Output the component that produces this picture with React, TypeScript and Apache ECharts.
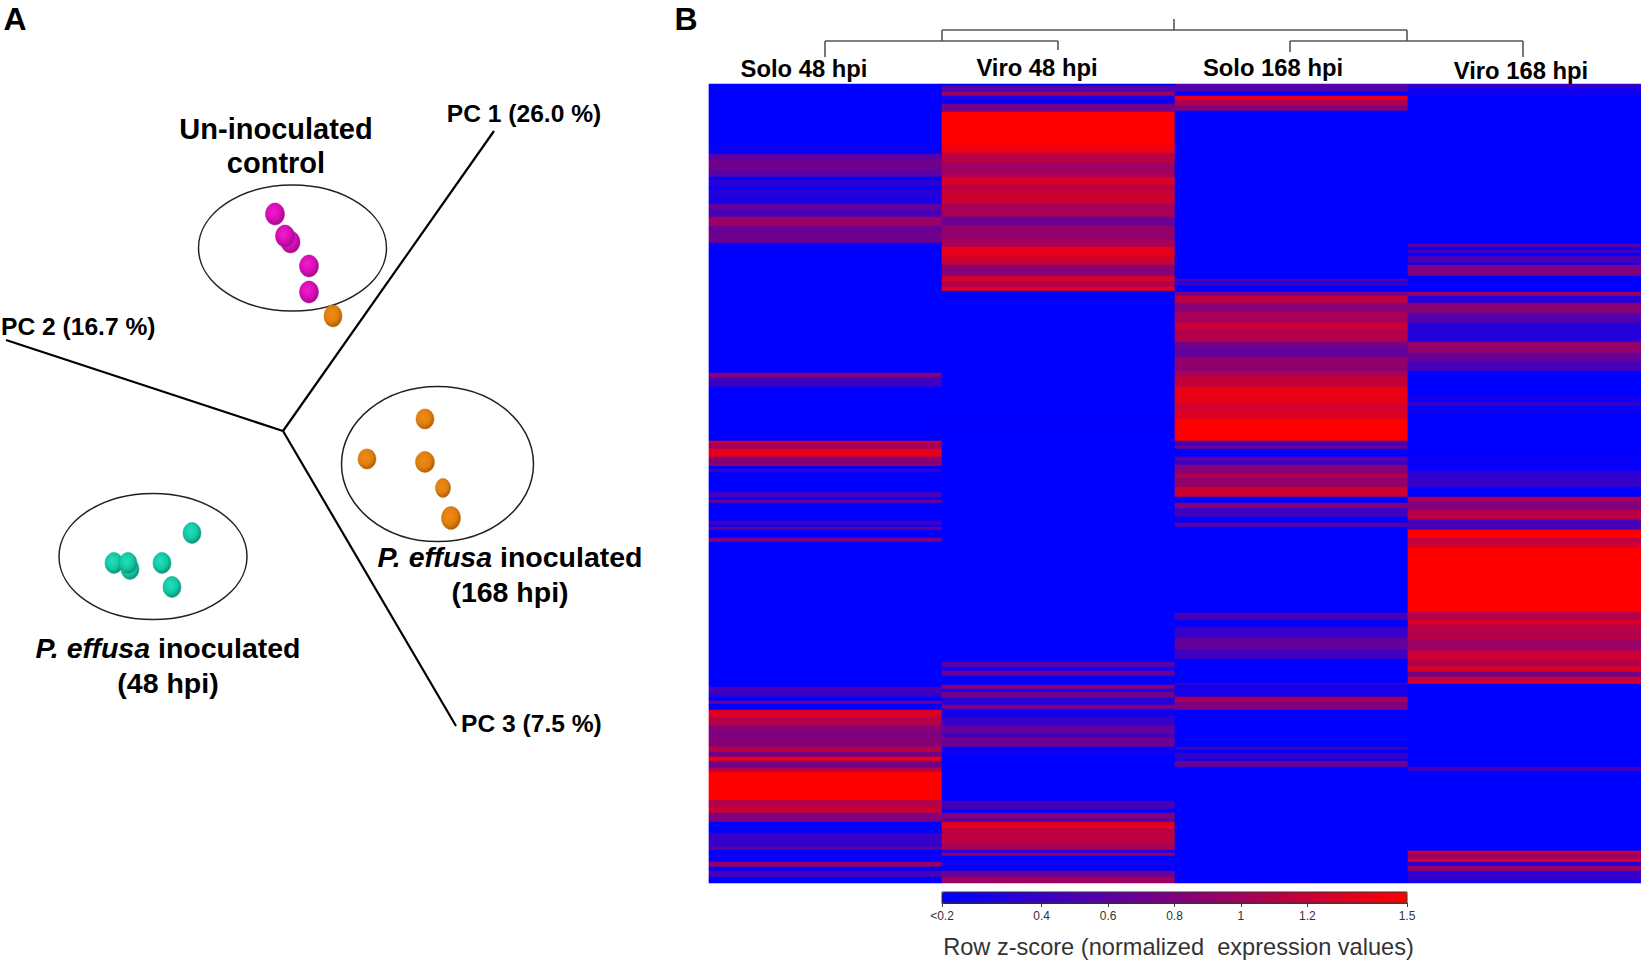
import React, { useEffect, useRef } from "react";
import * as echarts from "echarts";

// ---------- Heatmap: runs of [rows, z-score], top to bottom, one list per column ----------
const columns = ["Solo 48 hpi", "Viro 48 hpi", "Solo 168 hpi", "Viro 168 hpi"];
const rowCount = 799;

const solo48: [number, number][] = [
  [61,.1],[9,.15],[6,.6],[10,.72],[7,.6],[3,.1],[7,.3],[3,.15],[7,.3],[7,.25],[6,.65],[7,.5],[9,.95],[7,.7],[10,.72],
  [130,.1],[4,.85],[5,.5],[5,.4],[54,.1],[2,1.25],[6,1.0],[8,1.35],[8,.85],[1,1.2],[3,.1],[3,.4],[20,.1],[6,.45],[2,.1],[3,.7],
  [18,.1],[4,.45],[2,.15],[3,.65],[8,.1],[4,.8],[145,.1],[6,.5],[4,.35],[4,.1],[3,.7],[6,.1],[7,1.3],[9,1.1],[7,.85],[4,.75],
  [10,.85],[5,1.1],[5,.75],[4,1.4],[7,.75],[4,1.1],[28,1.5],[8,1.1],[5,1.22],[9,.8],[11,.1],[14,.4],[3,.6],[5,.1],[3,.25],[4,.1],
  [5,.9],[4,.1],[6,.5],[6,.1],
];
const viro48: [number, number][] = [
  [2,.1],[6,.55],[4,.95],[4,.25],[4,.15],[8,.75],[33,1.5],[8,1.4],[10,1.12],[7,.95],[7,1.0],[8,1.28],[5,1.12],[14,1.22],[13,1.02],
  [9,.7],[14,.9],[7,1.02],[10,1.36],[8,1.2],[11,.85],[6,1.25],[5,1.08],[4,1.36],[127,.1],[1,.15],[243,.1],[5,.6],[4,.2],[5,.7],[9,.1],
  [4,.85],[3,.2],[6,.75],[7,.3],[4,.8],[8,.2],[9,.4],[8,.65],[3,.45],[10,.7],[3,.1],[4,.2],[47,.1],[8,.5],[4,.1],[6,.8],[3,.5],
  [6,1.35],[16,1.15],[6,1.02],[3,.3],[3,.9],[7,.1],[3,.25],[5,.1],[6,.7],[6,.95],
];
const solo168: [number, number][] = [
  [8,.55],[4,.1],[4,1.36],[6,1.05],[5,.8],[168,.1],[3,.55],[1,.2],[3,.4],[6,.1],[4,.8],[7,1.15],[9,.85],[11,1.02],[7,1.2],[12,1.08],
  [5,.75],[10,.65],[10,.9],[4,.85],[6,1.05],[10,1.18],[16,1.38],[7,1.25],[9,1.3],[22,1.5],[5,.5],[3,.7],[8,.1],[4,.6],[4,.4],[9,.85],
  [4,1.05],[9,.9],[10,1.22],[6,.1],[5,.8],[9,.45],[6,.15],[4,.6],[86,.1],[7,.5],[7,.1],[11,.4],[12,.65],[9,.45],[24,.1],[2,.45],[4,.15],
  [8,.25],[5,1.02],[8,.8],[37,.1],[3,.45],[3,.1],[6,.4],[2,.1],[6,.7],[116,.1],
];
const viro168: [number, number][] = [
  [4,.4],[7,.2],[149,.1],[3,.6],[3,.2],[3,.45],[3,.15],[7,.5],[2,.15],[11,.8],[16,.1],[4,.95],[7,.3],[10,.85],[10,.55],[19,.3],[11,.9],
  [9,.65],[9,.5],[26,.1],[3,.25],[2,.12],[4,.4],[4,.15],[3,.2],[40,.1],[8,.15],[10,.12],[7,.35],[9,.4],[10,.1],[4,1.05],[9,.8],[10,1.1],
  [10,.5],[8,1.5],[5,1.15],[5,1.25],[64,1.5],[8,1.1],[5,1.28],[15,1.1],[11,.95],[10,1.22],[5,1.05],[6,1.28],[5,.75],[7,1.22],[83,.1],[4,.5],
  [80,.1],[2,1.3],[6,.95],[3,1.3],[4,.3],[5,.95],[2,.3],[7,.4],[3,.25],
];
const columnRuns = [solo48, viro48, solo168, viro168];

// Colour scale ticks (the left end of the key reads "<0.2")
const scaleMin = 0.1;
const scaleMax = 1.5;
const scaleTicks = [0.1, 0.4, 0.6, 0.8, 1, 1.2, 1.5];

// ---------- PCA points ----------
const controlPoints = [[275, 214], [290.5, 242], [285, 236], [309, 266], [309, 292]];
const hpi168Points = [[333, 316], [425, 419], [367, 459], [425, 462], [443, 488], [451, 518]];
const hpi48Points = [[192, 533], [114, 563], [130, 569], [128, 563], [162, 563], [172, 587]];
const pcaAxes = [
  [[283, 431], [494, 131]],
  [[283, 431], [6, 340]],
  [[283, 431], [456, 726]],
];

const FONT = "'Liberation Sans', Arial, sans-serif";

function sphere(light: string, base: string, dark: string) {
  return new echarts.graphic.RadialGradient(0.42, 0.4, 0.62, [
    { offset: 0, color: light },
    { offset: 0.6, color: base },
    { offset: 1, color: dark },
  ]);
}

function label(text: string, x: number, y: number, fontSize: number, align = "center") {
  return {
    type: "text",
    silent: true,
    style: {
      text, x, y, fontSize, fontWeight: "bold", fontFamily: FONT, fill: "#000",
      textAlign: align, textVerticalAlign: "middle",
    },
  };
}

function effusa(hours: string, x: number, y: number) {
  const base = { fontSize: 28.5, fontWeight: "bold", fontFamily: FONT, fill: "#000" };
  return [
    {
      type: "text",
      silent: true,
      style: {
        ...base, x, y, text: "{i|P. effusa} inoculated", textAlign: "center", textVerticalAlign: "middle",
        rich: { i: { ...base, fontStyle: "italic" } },
      },
    },
    label(hours, x, y + 35, 28.5),
  ];
}

function seg(x1: number, y1: number, x2: number, y2: number) {
  return {
    type: "line",
    silent: true,
    shape: { x1, y1, x2, y2 },
    style: { stroke: "#555", lineWidth: 1.6 },
  };
}

function ell(cx: number, cy: number, rx: number, ry: number) {
  return {
    type: "ellipse",
    silent: true,
    shape: { cx, cy, rx, ry },
    style: { fill: "none", stroke: "#222", lineWidth: 1.5 },
  };
}

function buildHeat() {
  const out: [number, number, number][] = [];
  columnRuns.forEach((runs, c) => {
    let row = 0;
    runs.forEach(([n, v]) => {
      for (let i = 0; i < n; i++) out.push([c, row++, v]);
    });
  });
  return out;
}

export default function App() {
  const ref = useRef<HTMLDivElement>(null);
  useEffect(() => {
    if (!ref.current) return;
    const chart = echarts.init(ref.current, undefined, { renderer: "svg" });
    const rows = Array.from({ length: rowCount }, (_, i) => String(i));
    const overlayAxisX = { gridIndex: 2, type: "value", min: 0, max: 1641, show: false };
    const overlayAxisY = { gridIndex: 2, type: "value", min: 0, max: 960, inverse: true, show: false };
    const axisSeries = pcaAxes.map((pts) => ({
      type: "line", xAxisIndex: 2, yAxisIndex: 2, data: pts, symbol: "none", silent: true,
      lineStyle: { color: "#000", width: 2.2 }, z: 3,
    }));
    const dots = (data: number[][], size: number[] | ((v: any, p: any) => number[]), color: any, edge: string) => ({
      type: "scatter", xAxisIndex: 2, yAxisIndex: 2, data, symbol: "circle", symbolSize: size, silent: true,
      itemStyle: { color, borderColor: edge, borderWidth: 0.5, opacity: 1 }, z: 4,
    });
    const orangeSizes = [[18, 22], [18, 20], [18, 20], [19, 21], [15, 19], [19, 23]];
    chart.setOption({
      animation: false,
      backgroundColor: "#fff",
      grid: [
        { left: 709, top: 84, width: 932, height: 799 },
        { left: 942, top: 892, width: 465, height: 12, show: true, borderColor: "#333", borderWidth: 1, backgroundColor: "transparent", z: 9 },
        { left: 0, top: 0, width: 1641, height: 960 },
      ],
      xAxis: [
        { gridIndex: 0, type: "category", data: columns, show: false },
        {
          gridIndex: 1, type: "value", min: scaleMin, max: scaleMax, position: "bottom",
          splitLine: { show: false },
          axisLine: { show: true, lineStyle: { color: "#333", width: 1 } },
          axisTick: { show: true, customValues: scaleTicks, length: 4, lineStyle: { color: "#444" } },
          axisLabel: {
            show: true, customValues: scaleTicks, margin: 7, fontSize: 12, fontFamily: FONT, color: "#333",
            formatter: (v: number) => (v === scaleMin ? "<0.2" : String(v)),
          },
          name: "Row z-score (normalized  expression values)",
          nameLocation: "middle", nameGap: 32,
          nameTextStyle: { fontSize: 23.6, fontFamily: FONT, color: "#333", padding: [0, 0, 0, 8] },
        },
        overlayAxisX,
      ],
      yAxis: [
        { gridIndex: 0, type: "category", data: rows, inverse: true, show: false },
        { gridIndex: 1, type: "value", min: 0, max: 1, show: false },
        overlayAxisY,
      ],
      visualMap: {
        type: "continuous", seriesIndex: 0, dimension: 2, min: scaleMin, max: scaleMax,
        orient: "horizontal", left: 942, top: 892, itemWidth: 12, itemHeight: 465, padding: 0,
        calculable: false, realtime: false, showLabel: false, hoverLink: false, text: ["", ""],
        inRange: { color: ["#0000ff", "#ff0000"] }, z: 5,
      },
      series: [
        {
          type: "heatmap", xAxisIndex: 0, yAxisIndex: 0, data: buildHeat(), silent: true, progressive: 0,
          itemStyle: { borderWidth: 0 },
        },
        ...axisSeries,
        dots(controlPoints, [19, 22], sphere("#f21cd0", "#d80cb4", "#9a0c86"), "#b010a0"),
        dots(hpi168Points, (_v: any, p: any) => orangeSizes[p.dataIndex], sphere("#f08a14", "#e27f0c", "#a85c08"), "#c07010"),
        dots(hpi48Points, [18, 21], sphere("#22e0bc", "#14c8a4", "#0c8c74"), "#10a88c"),
      ],
      graphic: [
        label("A", 15, 19, 32),
        label("B", 686, 19, 32),
        label("Un-inoculated", 276, 129, 29),
        label("control", 276, 163, 29),
        label("PC 1 (26.0 %)", 524, 113, 24.6),
        label("PC 2 (16.7 %)", 1, 326, 24.6, "left"),
        label("PC 3 (7.5 %)", 461, 723, 24.6, "left"),
        ...effusa("(168 hpi)", 510, 557),
        ...effusa("(48 hpi)", 168, 648),
        ell(292.5, 248, 94, 63),
        ell(437.5, 464, 96, 77.5),
        ell(153, 556.5, 94, 63),
        label(columns[0], 804, 68, 23.8),
        label(columns[1], 1037, 67, 23.8),
        label(columns[2], 1273, 67, 23.8),
        label(columns[3], 1521, 70, 23.8),
        seg(1174, 19, 1174, 30),
        seg(942, 30, 1407, 30),
        seg(942, 30, 942, 41),
        seg(825, 41, 1058, 41),
        seg(825, 41, 825, 57),
        seg(1058, 41, 1058, 50),
        seg(1407, 30, 1407, 41),
        seg(1290, 41, 1523, 41),
        seg(1290, 41, 1290, 52),
        seg(1523, 41, 1523, 57),
      ],
    });
    return () => chart.dispose();
  }, []);
  return <div ref={ref} style={{ position: "fixed", left: 0, top: 0, width: 1641, height: 960 }} />;
}
